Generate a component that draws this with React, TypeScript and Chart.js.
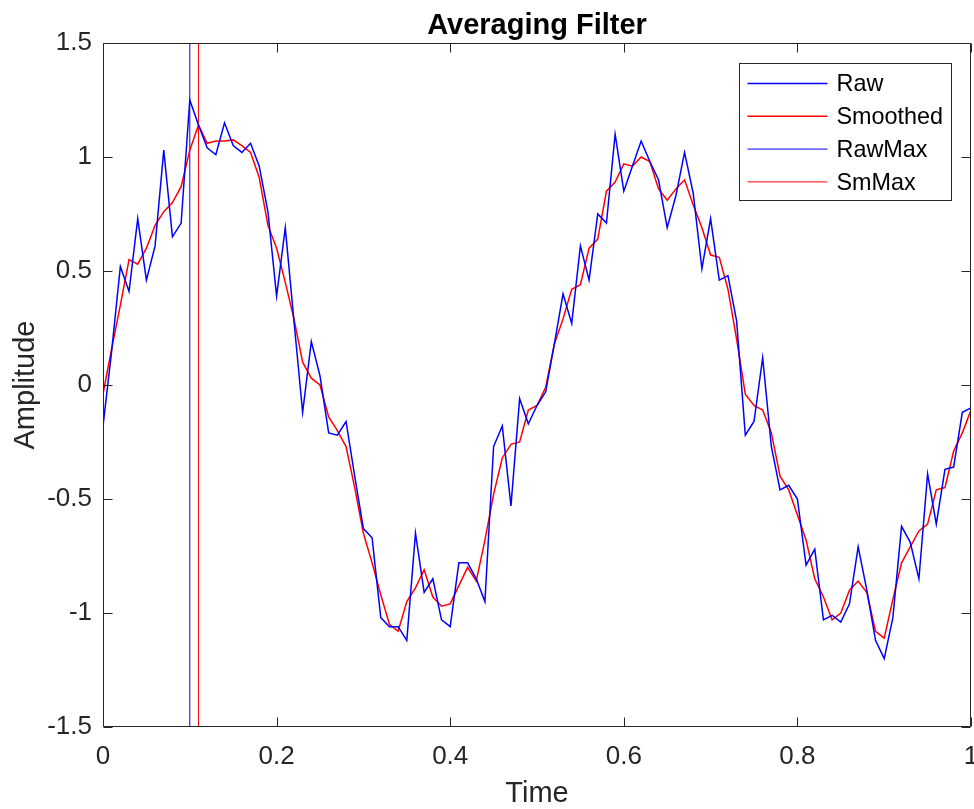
import React, { useEffect, useRef } from "react";
import { Chart, registerables } from "chart.js";

Chart.register(...registerables);

// ---- data ----
const time = [
  0.0, 0.01, 0.02, 0.03, 0.04, 0.05, 0.06, 0.07, 0.08, 0.09,
  0.1, 0.11, 0.12, 0.13, 0.14, 0.15, 0.16, 0.17, 0.18, 0.19,
  0.2, 0.21, 0.22, 0.23, 0.24, 0.25, 0.26, 0.27, 0.28, 0.29,
  0.3, 0.31, 0.32, 0.33, 0.34, 0.35, 0.36, 0.37, 0.38, 0.39,
  0.4, 0.41, 0.42, 0.43, 0.44, 0.45, 0.46, 0.47, 0.48, 0.49,
  0.5, 0.51, 0.52, 0.53, 0.54, 0.55, 0.56, 0.57, 0.58, 0.59,
  0.6, 0.61, 0.62, 0.63, 0.64, 0.65, 0.66, 0.67, 0.68, 0.69,
  0.7, 0.71, 0.72, 0.73, 0.74, 0.75, 0.76, 0.77, 0.78, 0.79,
  0.8, 0.81, 0.82, 0.83, 0.84, 0.85, 0.86, 0.87, 0.88, 0.89,
  0.9, 0.91, 0.92, 0.93, 0.94, 0.95, 0.96, 0.97, 0.98, 0.99,
  1.0,
];

const raw = [
  -0.18, 0.15, 0.52, 0.41, 0.73, 0.46, 0.61, 1.03, 0.65, 0.71,
  1.25, 1.14, 1.04, 1.01, 1.15, 1.05, 1.02, 1.06, 0.96, 0.76,
  0.39, 0.69, 0.28, -0.12, 0.19, 0.04, -0.21, -0.22, -0.16, -0.4,
  -0.63, -0.67, -1.02, -1.06, -1.06, -1.12, -0.65, -0.91, -0.85, -1.03,
  -1.06, -0.78, -0.78, -0.85, -0.95, -0.27, -0.18, -0.53, -0.06, -0.17,
  -0.09, -0.03, 0.18, 0.4, 0.27, 0.61, 0.46, 0.75, 0.71, 1.1,
  0.85, 0.96, 1.07, 0.98, 0.9, 0.69, 0.83, 1.02, 0.84, 0.51,
  0.73, 0.46, 0.48, 0.28, -0.22, -0.16, 0.12, -0.27, -0.46, -0.44,
  -0.5, -0.79, -0.72, -1.03, -1.01, -1.04, -0.96, -0.71, -0.9, -1.12,
  -1.2, -1.02, -0.62, -0.69, -0.85, -0.39, -0.61, -0.37, -0.36, -0.12,
  -0.1,
];

const smoothed = [
  -0.04, 0.16, 0.35, 0.55, 0.53, 0.6, 0.7, 0.76, 0.8, 0.87,
  1.03, 1.14, 1.06, 1.07, 1.07, 1.075, 1.05, 1.02, 0.91, 0.7,
  0.6, 0.45, 0.29, 0.1, 0.03, 0.0, -0.14, -0.2, -0.27, -0.45,
  -0.65, -0.78, -0.92, -1.05, -1.08, -0.95, -0.89, -0.81, -0.93, -0.97,
  -0.96, -0.88, -0.8, -0.86, -0.68, -0.48, -0.32, -0.26, -0.25, -0.11,
  -0.09, -0.01, 0.18, 0.29, 0.42, 0.44, 0.6, 0.64, 0.85, 0.89,
  0.97, 0.96, 1.0, 0.98, 0.86, 0.81, 0.86, 0.9, 0.79, 0.69,
  0.57, 0.56, 0.42, 0.2, -0.04, -0.09, -0.11, -0.21, -0.4, -0.46,
  -0.57, -0.68, -0.85, -0.93, -1.03, -1.0, -0.9, -0.86, -0.91, -1.08,
  -1.11, -0.94, -0.78, -0.71, -0.64, -0.61, -0.46, -0.45, -0.29, -0.21,
  -0.11,
];

const rawMaxTime = 0.1;
const smMaxTime = 0.11;

const xTickValues = [0, 0.2, 0.4, 0.6, 0.8, 1];
const xTickLabels = ["0", "0.2", "0.4", "0.6", "0.8", "1"];
const yTickValues = [-1.5, -1, -0.5, 0, 0.5, 1, 1.5];
const yTickLabels = ["-1.5", "-1", "-0.5", "0", "0.5", "1", "1.5"];
const yLimits = [-1.5, 1.5];
const xLimits = [0, 1];

const seriesLabels = ["Raw", "Smoothed", "RawMax", "SmMax"];

const FONT = "'Liberation Sans', Arial, Helvetica, sans-serif";
const AXIS_COLOR = "#262626";

// ---- plugins ----
const axesBoxPlugin = {
  id: "axesBox",
  afterDatasetsDraw(chart: any) {
    const ctx = chart.ctx;
    const { left, right, top, bottom } = chart.chartArea;
    const L = Math.floor(left) + 0.5;
    const R = Math.floor(right) - 0.5;
    const T = Math.floor(top) + 0.5;
    const B = Math.floor(bottom) - 0.5;
    const tick = 9;
    ctx.save();
    ctx.strokeStyle = AXIS_COLOR;
    ctx.lineWidth = 1;
    ctx.beginPath();
    ctx.rect(L, T, R - L, B - T);
    const xs = chart.scales.x;
    xs.ticks.forEach((t: any) => {
      const p = Math.round(xs.getPixelForValue(t.value)) + 0.5;
      ctx.moveTo(p, B);
      ctx.lineTo(p, B - tick);
      ctx.moveTo(p, T);
      ctx.lineTo(p, T + tick);
    });
    const ys = chart.scales.y;
    ys.ticks.forEach((t: any) => {
      const p = Math.round(ys.getPixelForValue(t.value)) + 0.5;
      ctx.moveTo(L, p);
      ctx.lineTo(L + tick, p);
      ctx.moveTo(R, p);
      ctx.lineTo(R - tick, p);
    });
    ctx.stroke();
    ctx.restore();
  },
};

const boxLegendPlugin = {
  id: "boxLegend",
  afterDraw(chart: any) {
    const ctx = chart.ctx;
    const { right, top } = chart.chartArea;
    const bx = Math.floor(right - 232) + 0.5;
    const by = Math.floor(top + 20) + 0.5;
    const bw = 212;
    const bh = 137;
    const rowGap = 32.8;
    ctx.save();
    ctx.fillStyle = "#ffffff";
    ctx.fillRect(bx, by, bw, bh);
    ctx.strokeStyle = AXIS_COLOR;
    ctx.lineWidth = 1;
    ctx.strokeRect(bx, by, bw, bh);
    ctx.font = `23.4px ${FONT}`;
    ctx.textBaseline = "middle";
    ctx.textAlign = "left";
    chart.data.datasets.forEach((ds: any, i: number) => {
      const y = by + 20 + i * rowGap;
      ctx.strokeStyle = ds.borderColor;
      ctx.lineWidth = ds.borderWidth;
      ctx.beginPath();
      ctx.moveTo(bx + 8, y);
      ctx.lineTo(bx + 88, y);
      ctx.stroke();
      ctx.fillStyle = "#000000";
      ctx.fillText(ds.label, bx + 97, y + 1.5);
    });
    ctx.restore();
  },
};

export default function App() {
  const canvasRef = useRef<HTMLCanvasElement | null>(null);

  useEffect(() => {
    const canvas = canvasRef.current;
    if (!canvas) return;

    const rawPts = time.map((t, i) => ({ x: t, y: raw[i] }));
    const smPts = time.map((t, i) => ({ x: t, y: smoothed[i] }));
    const rawMaxPts = yLimits.map((v) => ({ x: rawMaxTime, y: v }));
    const smMaxPts = yLimits.map((v) => ({ x: smMaxTime, y: v }));

    const lineBase = {
      pointRadius: 0,
      pointHoverRadius: 0,
      tension: 0,
      fill: false,
    };

    const chart = new Chart(canvas, {
      type: "line",
      data: {
        datasets: [
          { ...lineBase, label: seriesLabels[0], data: rawPts, borderColor: "#0000ff", borderWidth: 1.5 },
          { ...lineBase, label: seriesLabels[1], data: smPts, borderColor: "#ff0000", borderWidth: 1.5 },
          { ...lineBase, label: seriesLabels[2], data: rawMaxPts, borderColor: "#0000ff", borderWidth: 1 },
          { ...lineBase, label: seriesLabels[3], data: smMaxPts, borderColor: "#ff0000", borderWidth: 1 },
        ],
      },
      options: {
        responsive: false,
        animation: false,
        devicePixelRatio: 1,
        layout: { padding: { left: 0, right: 3, top: 0, bottom: 0 } },
        plugins: {
          legend: { display: false },
          tooltip: { enabled: false },
          title: {
            display: true,
            text: "Averaging Filter",
            fullSize: false,
            color: "#000000",
            font: { family: FONT, size: 29, weight: "bold", lineHeight: 1 },
            padding: { top: 11, bottom: 3 },
          },
        },
        scales: {
          x: {
            type: "linear",
            min: xLimits[0],
            max: xLimits[1],
            grid: { display: false, drawTicks: false },
            border: { display: false },
            afterBuildTicks: (s: any) => {
              s.ticks = xTickValues.map((v) => ({ value: v }));
            },
            ticks: {
              autoSkip: false,
              maxRotation: 0,
              color: AXIS_COLOR,
              padding: 14.4,
              font: { family: FONT, size: 26, lineHeight: 1.2 },
              callback: (_v: any, i: number) => xTickLabels[i],
            },
            title: {
              display: true,
              text: "Time",
              color: AXIS_COLOR,
              font: { family: FONT, size: 29, lineHeight: 1 },
              padding: { top: 0, bottom: 1 },
            },
            afterFit: (s: any) => {
              s.height = 82;
              s.paddingLeft = 0;
              s.paddingRight = 0;
            },
          },
          y: {
            type: "linear",
            min: yLimits[0],
            max: yLimits[1],
            grid: { display: false, drawTicks: false },
            border: { display: false },
            afterBuildTicks: (s: any) => {
              s.ticks = yTickValues.map((v) => ({ value: v }));
            },
            ticks: {
              autoSkip: false,
              color: AXIS_COLOR,
              padding: 11,
              font: { family: FONT, size: 26, lineHeight: 1.2 },
              callback: (_v: any, i: number) => yTickLabels[i],
            },
            title: {
              display: true,
              text: "Amplitude",
              color: AXIS_COLOR,
              font: { family: FONT, size: 29, lineHeight: 1 },
              padding: { top: 11, bottom: 0 },
            },
            afterFit: (s: any) => {
              s.width = 103;
              s.paddingTop = 0;
              s.paddingBottom = 0;
            },
          },
        },
      },
      plugins: [axesBoxPlugin, boxLegendPlugin],
    } as any);

    return () => chart.destroy();
  }, []);

  return (
    <div style={{ position: "fixed", left: 0, top: 0, width: 974, height: 809, background: "#ffffff" }}>
      <canvas ref={canvasRef} width={974} height={809} style={{ display: "block", width: 974, height: 809 }} />
    </div>
  );
}
